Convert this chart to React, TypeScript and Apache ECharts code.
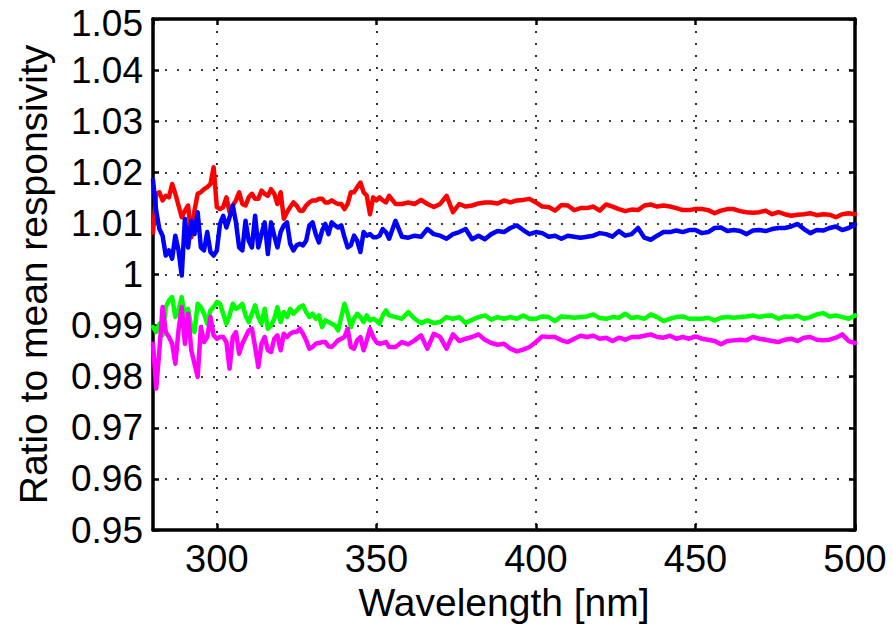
import React, { useEffect, useRef } from "react";
import * as echarts from "echarts";

const wavelengths = [
  280, 281, 282, 283, 284, 285, 286, 287, 288, 289, 290, 291, 292, 293, 294, 295, 296, 297, 298, 299,
  300, 301, 302, 303, 304, 305, 306, 307, 308, 309, 310, 311, 312, 313, 314, 315, 316, 317, 318, 319,
  320, 321, 322, 323, 324, 325, 326, 327, 328, 329, 330, 331, 332, 333, 334, 335, 336, 337, 338, 339,
  340, 341, 342, 343, 344, 345, 346, 347, 348, 349, 350, 351, 352, 353, 354,
  356, 358, 360, 362, 364, 366, 368, 370, 372, 374, 376, 378, 380, 382, 384, 386, 388, 390, 392, 394, 396, 398, 400,
  402, 404, 406, 408, 410, 412, 414, 416, 418, 420, 422, 424, 426, 428, 430, 432, 434, 436, 438, 440, 442, 444, 446, 448, 450,
  452, 454, 456, 458, 460, 462, 464, 466, 468, 470, 472, 474, 476, 478, 480, 482, 484, 486, 488, 490, 492, 494, 496, 498, 500,
];

const redSeries = [
  1.0082, 1.0158, 1.0161, 1.0145, 1.0154, 1.0151, 1.0177, 1.0158, 1.0135, 1.0112, 1.0125, 1.0135, 1.0073, 1.0125, 1.0158, 1.0161, 1.0167, 1.0171, 1.0177, 1.0210,
  1.0132, 1.0128, 1.0132, 1.0151, 1.0122, 1.0135, 1.0145, 1.0161, 1.0138, 1.0135, 1.0151, 1.0158, 1.0148, 1.0148, 1.0164, 1.0158, 1.0154,
  1.0167, 1.0158, 1.0138, 1.0161, 1.0109, 1.0122, 1.0132, 1.0141, 1.0135, 1.0125, 1.0125, 1.0135, 1.0141, 1.0145, 1.0145, 1.0148, 1.0148, 1.0141, 1.0141,
  1.0145, 1.0141, 1.0138, 1.0138, 1.0128, 1.0138, 1.0161, 1.0161, 1.0171, 1.0180, 1.0161, 1.0154, 1.0118, 1.0151, 1.0145, 1.0151, 1.0145, 1.0141, 1.0154,
  1.0138, 1.0138, 1.0141, 1.0138, 1.0146, 1.0138, 1.0132, 1.0138, 1.0154, 1.0122, 1.0138, 1.0133, 1.0135, 1.0139, 1.0141, 1.0141, 1.0139, 1.0145, 1.0141, 1.0145, 1.0146, 1.0148, 1.0141,
  1.0133, 1.0132, 1.0125, 1.0136, 1.0135, 1.0126, 1.0130, 1.0130, 1.0133, 1.0125, 1.0137, 1.0133, 1.0128, 1.0124, 1.0127, 1.0126, 1.0135, 1.0137, 1.0133, 1.0135, 1.0133, 1.0130, 1.0126, 1.0126, 1.0128,
  1.0128, 1.0126, 1.0120, 1.0125, 1.0128, 1.0128, 1.0124, 1.0122, 1.0121, 1.0122, 1.0125, 1.0118, 1.0122, 1.0118, 1.0115, 1.0117, 1.0118, 1.0120, 1.0116, 1.0118, 1.0117, 1.0112, 1.0118, 1.0120, 1.0118,
];

const blueSeries = [
  1.0185, 1.0125, 1.0089, 1.0076, 1.0037, 1.0047, 1.0031, 1.0076, 1.0047, 0.9998, 1.0109, 1.0053, 1.0105, 1.0079, 1.0122, 1.0053, 1.0047, 1.0083, 1.0044, 1.0037,
  1.0047, 1.0099, 1.0115, 1.0092, 1.0112, 1.0135, 1.0102, 1.0053, 1.0047, 1.0105, 1.0066, 1.0053, 1.0115, 1.0053, 1.0079, 1.0102, 1.0040,
  1.0102, 1.0076, 1.0053, 1.0083, 1.0096, 1.0102, 1.0060, 1.0047, 1.0057, 1.0060, 1.0057, 1.0066, 1.0096, 1.0102, 1.0079, 1.0063, 1.0086, 1.0099, 1.0079,
  1.0102, 1.0096, 1.0092, 1.0096, 1.0073, 1.0053, 1.0057, 1.0076, 1.0066, 1.0044, 1.0083, 1.0076, 1.0079, 1.0073, 1.0073, 1.0076, 1.0089, 1.0083, 1.0070,
  1.0105, 1.0074, 1.0072, 1.0076, 1.0074, 1.0089, 1.0079, 1.0076, 1.0070, 1.0079, 1.0083, 1.0089, 1.0069, 1.0076, 1.0069, 1.0079, 1.0085, 1.0083, 1.0091, 1.0096, 1.0087, 1.0079, 1.0083,
  1.0081, 1.0074, 1.0076, 1.0070, 1.0076, 1.0074, 1.0072, 1.0074, 1.0076, 1.0081, 1.0079, 1.0074, 1.0085, 1.0076, 1.0079, 1.0091, 1.0072, 1.0068, 1.0076, 1.0083, 1.0083, 1.0086, 1.0083, 1.0087, 1.0087,
  1.0081, 1.0083, 1.0091, 1.0092, 1.0085, 1.0087, 1.0085, 1.0079, 1.0086, 1.0087, 1.0085, 1.0089, 1.0091, 1.0091, 1.0094, 1.0099, 1.0089, 1.0081, 1.0087, 1.0086, 1.0091, 1.0094, 1.0087, 1.0091, 1.0098,
];

const greenSeries = [
  0.98971, 0.98874, 0.99036, 0.98809, 0.99362, 0.99492, 0.99557, 0.99167, 0.99297, 0.99557, 0.99167, 0.99329, 0.98971,
  0.98874, 0.99427, 0.99362, 0.99232, 0.99036, 0.99297, 0.99362, 0.9946, 0.99427, 0.99232, 0.99036, 0.99199, 0.99427,
  0.99329, 0.99362, 0.99427, 0.99199, 0.99069, 0.99232, 0.99395, 0.99167, 0.99036, 0.99329, 0.98939,
  0.99004, 0.99134, 0.99362, 0.99069, 0.99264, 0.99167, 0.99329, 0.99232, 0.99297, 0.99362, 0.99395, 0.99264, 0.99167, 0.99232, 0.99134, 0.99199, 0.98971, 0.99102, 0.99069,
  0.99036, 0.99004, 0.98906, 0.99167, 0.99427, 0.99232, 0.98971, 0.99134, 0.99232, 0.99167, 0.99069, 0.99199, 0.99102, 0.99134, 0.99102, 0.99036, 0.99199, 0.99297, 0.99199,
  0.99167, 0.99134, 0.99264, 0.99134, 0.99049, 0.99102, 0.99049, 0.99069, 0.99167, 0.99134, 0.99167, 0.99049, 0.99115, 0.99167, 0.99199, 0.99115, 0.99167, 0.99134, 0.99167, 0.99134, 0.99199, 0.99134, 0.99134,
  0.9918, 0.99167, 0.99089, 0.9918, 0.99167, 0.99154, 0.99167, 0.9918, 0.99219, 0.99147, 0.99134, 0.99167, 0.99154, 0.99232, 0.99147, 0.99167, 0.99134, 0.99219, 0.99167, 0.99089, 0.99134, 0.99167, 0.9918, 0.99134, 0.99134,
  0.99134, 0.99154, 0.99102, 0.99154, 0.99167, 0.99154, 0.99167, 0.9918, 0.99199, 0.99167, 0.99193, 0.99199, 0.99134, 0.9918, 0.99167, 0.99193, 0.99134, 0.99167, 0.99219, 0.99245, 0.9918, 0.99199, 0.99167, 0.99134, 0.99199,
];

const magentaSeries = [
  0.98646, 0.97767, 0.98516, 0.99362, 0.98874, 0.98776, 0.98646, 0.98255, 0.98906, 0.99362, 0.98646, 0.99232, 0.98516, 0.98255, 0.97995, 0.98971, 0.98678, 0.98776, 0.99167, 0.98809,
  0.98743, 0.98776, 0.98776, 0.98678, 0.98158, 0.98776, 0.98874, 0.98451, 0.98646, 0.98776, 0.98906, 0.98939, 0.98581, 0.9819, 0.98646, 0.98776, 0.98516,
  0.98483, 0.98743, 0.98809, 0.98516, 0.98841, 0.98776, 0.98841, 0.98874, 0.98874, 0.98939, 0.98841, 0.98711, 0.98548, 0.98581, 0.98646, 0.98659, 0.98678, 0.98678, 0.98594,
  0.98581, 0.98646, 0.98711, 0.98743, 0.98776, 0.98939, 0.98581, 0.98548, 0.98711, 0.98776, 0.98516, 0.98711, 0.98939, 0.98776, 0.98678, 0.98646, 0.98659, 0.98678, 0.98581,
  0.98581, 0.98678, 0.98633, 0.98711, 0.98809, 0.98548, 0.98841, 0.98776, 0.98548, 0.98828, 0.98698, 0.98743, 0.98776, 0.98828, 0.98724, 0.98659, 0.98626, 0.98646, 0.98548, 0.98496, 0.98529, 0.98581, 0.98678,
  0.98789, 0.98776, 0.98776, 0.98711, 0.98678, 0.98743, 0.98802, 0.98776, 0.98802, 0.98743, 0.98763, 0.98698, 0.98763, 0.98724, 0.98776, 0.98776, 0.98802, 0.98828, 0.98776, 0.98763, 0.98802, 0.98743, 0.98776, 0.98743, 0.98789,
  0.98743, 0.98724, 0.98698, 0.98633, 0.98698, 0.98711, 0.98724, 0.98711, 0.98776, 0.98743, 0.98724, 0.98698, 0.98678, 0.98724, 0.98743, 0.98698, 0.98763, 0.98776, 0.98724, 0.98711, 0.98724, 0.98763, 0.98828, 0.98698, 0.98659,
];

const xTitle = "Wavelength [nm]";
const yTitle = "Ratio to mean responsivity";

const FONT = "'Liberation Sans', Arial, Helvetica, sans-serif";

export default function App() {
  const ref = useRef<HTMLDivElement>(null);

  useEffect(() => {
    document.body.style.margin = "0";
    if (!ref.current) return;
    const chart = echarts.init(ref.current, undefined, { renderer: "svg" });

    const axisLine = { show: true, onZero: false, lineStyle: { color: "#000", width: 3.5 } };
    const axisTick = { show: true, inside: true, length: 6, lineStyle: { color: "#000", width: 2.5 } };
    const splitLine = { show: true, lineStyle: { color: "#000", width: 1.6, type: [2, 10] as number[] } };
    const labelStyle = { color: "#000", fontSize: 38, fontFamily: FONT };

    const mk = (name: string, vals: number[], color: string) => ({
      name,
      type: "line",
      xAxisIndex: 0,
      yAxisIndex: 0,
      data: wavelengths.map((w, i) => [w, vals[i]]),
      showSymbol: false,
      symbol: "none",
      lineStyle: { color, width: 4.5, join: "round", cap: "round" },
      itemStyle: { color },
      clip: true,
    });

    const yFmt = (v: number) => {
      const s = String(Number(v.toFixed(2)));
      return v > 1.0499 ? "{t|" + s + "}" : s;
    };

    chart.setOption({
      animation: false,
      backgroundColor: "#fff",
      grid: { left: 153, right: 38, top: 19, bottom: 99, containLabel: false },
      xAxis: [
        {
          type: "value",
          min: 280,
          max: 500,
          position: "bottom",
          axisLine,
          axisTick,
          splitLine,
          axisLabel: { ...labelStyle, margin: 10, showMinLabel: false },
          name: xTitle,
          nameLocation: "middle",
          nameGap: 50,
          nameTextStyle: { color: "#000", fontSize: 39, fontFamily: FONT },
        },
        {
          type: "value",
          min: 280,
          max: 500,
          position: "top",
          axisLine,
          axisTick,
          splitLine: { show: false },
          axisLabel: { show: false },
        },
      ],
      yAxis: [
        {
          type: "value",
          min: 0.95,
          max: 1.05,
          interval: 0.01,
          position: "left",
          axisLine,
          axisTick,
          splitLine,
          axisLabel: {
            ...labelStyle,
            fontSize: 37,
            margin: 10,
            formatter: yFmt,
            rich: {
              t: { color: "#000", fontSize: 37, fontFamily: FONT, padding: [8, 0, 0, 0] },
            },
          },
          name: yTitle,
          nameLocation: "middle",
          nameGap: 100,
          nameTextStyle: { color: "#000", fontSize: 39, fontFamily: FONT },
        },
        {
          type: "value",
          min: 0.95,
          max: 1.05,
          interval: 0.01,
          position: "right",
          axisLine,
          axisTick,
          splitLine: { show: false },
          axisLabel: { show: false },
        },
      ],
      series: [
        mk("red", redSeries, "#ff0000"),
        mk("blue", blueSeries, "#0000ff"),
        mk("green", greenSeries, "#00ff00"),
        mk("magenta", magentaSeries, "#ff00ff"),
      ],
    });

    return () => chart.dispose();
  }, []);

  return <div ref={ref} style={{ width: 893, height: 629 }} />;
}
